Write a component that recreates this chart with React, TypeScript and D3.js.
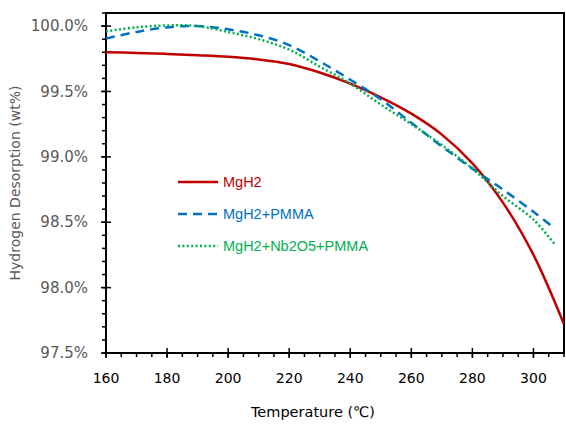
import React, { useEffect, useRef } from "react";
import * as d3 from "d3";

const temps = [160, 170, 180, 190, 200, 210, 220, 230, 240, 250, 260, 270, 280, 290, 300, 310];
const mgh2 = [99.8, 99.795, 99.787, 99.777, 99.765, 99.745, 99.71, 99.645, 99.56, 99.455, 99.33, 99.17, 98.95, 98.65, 98.25, 97.72];

const tempsPmma = [160, 170, 180, 190, 200, 210, 220, 230, 240, 250, 260, 270, 280, 290, 300, 306.5];
const mgh2Pmma = [99.905, 99.955, 99.99, 100.0, 99.975, 99.93, 99.855, 99.73, 99.59, 99.44, 99.26, 99.08, 98.91, 98.75, 98.58, 98.46];

const tempsNb = [160, 170, 180, 190, 200, 210, 220, 230, 240, 250, 260, 270, 280, 290, 300, 307];
const mgh2NbPmma = [99.96, 99.99, 100.005, 100.0, 99.955, 99.9, 99.82, 99.69, 99.56, 99.4, 99.25, 99.09, 98.91, 98.7, 98.52, 98.33];

const xTicks = [160, 180, 200, 220, 240, 260, 280, 300];
const yTicks = [97.5, 98.0, 98.5, 99.0, 99.5, 100.0];

const series = [
  { name: "MgH2", xs: temps, ys: mgh2, color: "#C00000", dash: null },
  { name: "MgH2+PMMA", xs: tempsPmma, ys: mgh2Pmma, color: "#0070C0", dash: "9,6" },
  { name: "MgH2+Nb2O5+PMMA", xs: tempsNb, ys: mgh2NbPmma, color: "#00B050", dash: "2,2.4" },
];

const W = 566, H = 426;
const left = 106, right = 564, top = 13, bottom = 353;

const App = () => {
  const ref = useRef(null);

  useEffect(() => {
    const svg = d3.select(ref.current);
    svg.selectAll("*").remove();

    const x = d3.scaleLinear().domain([160, 310]).range([left, right]);
    const y = d3.scaleLinear().domain([97.5, 100.1]).range([bottom, top]);

    // minor ticks
    const xMinor = d3.range(160, 311, 5);
    const yMinor = d3.range(975, 1002, 1).map(v => v / 10);

    const gx = svg.append("g").attr("transform", `translate(0,${bottom})`);
    gx.selectAll("line.minor")
      .data(xMinor)
      .enter()
      .append("line")
      .attr("x1", d => x(d)).attr("x2", d => x(d))
      .attr("y1", 0).attr("y2", 4)
      .attr("stroke", "#000").attr("stroke-width", 1.5);
    gx.selectAll("line.major")
      .data(xTicks)
      .enter()
      .append("line")
      .attr("x1", d => x(d)).attr("x2", d => x(d))
      .attr("y1", -5).attr("y2", 5)
      .attr("stroke", "#000").attr("stroke-width", 1.5);
    gx.selectAll("text")
      .data(xTicks)
      .enter()
      .append("text")
      .attr("x", d => x(d))
      .attr("y", 30)
      .attr("text-anchor", "middle")
      .attr("font-family", "DejaVu Sans")
      .attr("font-size", 14)
      .attr("fill", "#000")
      .text(d => d);

    const gy = svg.append("g").attr("transform", `translate(${left},0)`);
    gy.selectAll("line.minor")
      .data(yMinor)
      .enter()
      .append("line")
      .attr("x1", -4).attr("x2", 0)
      .attr("y1", d => y(d)).attr("y2", d => y(d))
      .attr("stroke", "#000").attr("stroke-width", 1.5);
    gy.selectAll("line.major")
      .data(yTicks)
      .enter()
      .append("line")
      .attr("x1", -5).attr("x2", 5)
      .attr("y1", d => y(d)).attr("y2", d => y(d))
      .attr("stroke", "#000").attr("stroke-width", 1.5);
    gy.selectAll("text")
      .data(yTicks)
      .enter()
      .append("text")
      .attr("x", -18)
      .attr("y", d => y(d))
      .attr("dy", "0.35em")
      .attr("text-anchor", "end")
      .attr("font-family", "DejaVu Sans")
      .attr("font-size", 15)
      .attr("fill", "#595959")
      .text(d => d3.format(".1f")(d) + "%");

    // plot box
    svg.append("rect")
      .attr("x", left).attr("y", top)
      .attr("width", right - left).attr("height", bottom - top)
      .attr("fill", "none")
      .attr("stroke", "#000")
      .attr("stroke-width", 2);

    svg.append("clipPath").attr("id", "plotclip")
      .append("rect")
      .attr("x", left).attr("y", top)
      .attr("width", right - left).attr("height", bottom - top);

    const line = d3.line().x(d => x(d[0])).y(d => y(d[1])).curve(d3.curveCatmullRom);

    series.forEach(s => {
      const pts = s.xs.map((t, i) => [t, s.ys[i]]);
      svg.append("path")
        .attr("d", line(pts))
        .attr("fill", "none")
        .attr("stroke", s.color)
        .attr("stroke-width", 2.5)
        .attr("stroke-dasharray", s.dash)
        .attr("clip-path", "url(#plotclip)");
    });

    // legend
    const lg = svg.append("g");
    series.forEach((s, i) => {
      const ly = 182 + i * 32;
      lg.append("line")
        .attr("x1", 178).attr("x2", 218)
        .attr("y1", ly).attr("y2", ly)
        .attr("stroke", s.color)
        .attr("stroke-width", 2.5)
        .attr("stroke-dasharray", s.dash);
      lg.append("text")
        .attr("x", 223).attr("y", ly)
        .attr("dy", "0.35em")
        .attr("font-family", "Liberation Sans")
        .attr("font-size", 14.5)
        .attr("fill", s.color)
        .text(s.name);
    });

    // axis titles
    svg.append("text")
      .attr("x", 313).attr("y", 417)
      .attr("text-anchor", "middle")
      .attr("font-family", "DejaVu Sans")
      .attr("font-size", 14.5)
      .attr("fill", "#000")
      .text("Temperature (℃)");

    svg.append("text")
      .attr("transform", `translate(20,${(top + bottom) / 2}) rotate(-90)`)
      .attr("text-anchor", "middle")
      .attr("font-family", "DejaVu Sans")
      .attr("font-size", 14)
      .attr("fill", "#595959")
      .text("Hydrogen Desorption (wt%)");
  }, []);

  return (
    <svg
      ref={ref}
      width={W}
      height={H}
      style={{ position: "absolute", left: 0, top: 0, background: "#fff" }}
    />
  );
};

export default App;
